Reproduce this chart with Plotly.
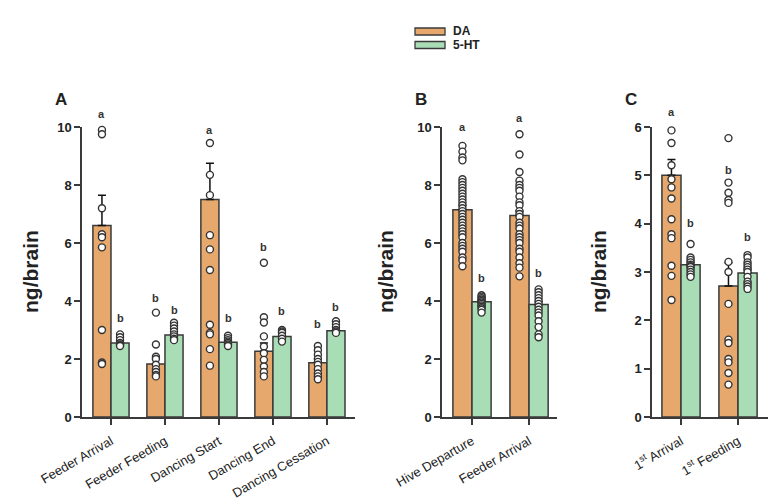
import plotly.graph_objects as go

# ---------------- data ----------------
cats_A = ["Feeder Arrival", "Feeder Feeding", "Dancing Start", "Dancing End", "Dancing Cessation"]
da_mean_A = [6.6, 1.83, 7.5, 2.27, 1.87]
da_err_A = [1.05, 0.17, 1.25, 0.28, 0.15]
ht_mean_A = [2.55, 2.83, 2.58, 2.78, 2.97]
ht_err_A = [0.06, 0.07, 0.05, 0.05, 0.06]
da_pts_A = [
    [9.9, 9.75, 7.2, 6.3, 6.2, 5.85, 3.0, 1.88, 1.83],
    [3.6, 2.5, 2.08, 2.0, 1.8, 1.65, 1.55, 1.45, 1.4],
    [9.45, 8.35, 7.65, 6.27, 5.78, 5.07, 3.18, 2.9, 2.85, 2.34, 1.77],
    [5.32, 3.44, 3.26, 2.78, 2.43, 2.2, 1.97, 1.74, 1.55, 1.4],
    [2.45, 2.3, 2.15, 2.0, 1.9, 1.8, 1.65, 1.5, 1.4, 1.3],
]
ht_pts_A = [
    [2.85, 2.75, 2.65, 2.55, 2.5, 2.48, 2.45],
    [3.25, 3.15, 3.05, 2.95, 2.85, 2.78, 2.7, 2.65],
    [2.8, 2.72, 2.65, 2.6, 2.55, 2.5, 2.45],
    [3.0, 2.95, 2.9, 2.8, 2.7, 2.6],
    [3.3, 3.2, 3.1, 3.0, 2.95, 2.9],
]
da_let_A = ["a", "b", "a", "b", "b"]
da_let_y_A = [10.45, 4.1, 9.9, 5.85, 3.2]
ht_let_A = ["b", "b", "b", "b", "b"]
ht_let_y_A = [3.4, 3.7, 3.4, 3.65, 3.8]

cats_B = ["Hive Departure", "Feeder Arrival"]
da_mean_B = [7.15, 6.95]
da_err_B = [0.15, 0.15]
ht_mean_B = [3.97, 3.88]
ht_err_B = [0.05, 0.1]
da_pts_B = [
    [9.35, 9.15, 8.95, 8.85, 8.2, 8.1, 8.0, 7.9, 7.8, 7.7, 7.6, 7.5, 7.4, 7.3, 7.2, 7.1,
     7.0, 6.9, 6.8, 6.7, 6.6, 6.5, 6.4, 6.3, 6.2, 6.0, 5.9, 5.8, 5.7, 5.5, 5.4, 5.2],
    [9.75, 9.05, 8.45, 8.15, 8.0, 7.9, 7.8, 7.6, 7.4, 7.3, 7.1, 7.0, 6.9, 6.7, 6.6, 6.5,
     6.3, 6.2, 6.1, 6.0, 5.8, 5.7, 5.5, 5.3, 5.15, 4.85],
]
ht_pts_B = [
    [4.2, 4.15, 4.1, 4.05, 4.0, 3.95, 3.9, 3.85, 3.8, 3.75, 3.7, 3.6],
    [4.4, 4.3, 4.2, 4.1, 4.0, 3.9, 3.8, 3.7, 3.6, 3.5, 3.3, 3.1, 2.85, 2.75],
]
da_let_B = ["a", "a"]
da_let_y_B = [10.0, 10.3]
ht_let_B = ["b", "b"]
ht_let_y_B = [4.78, 4.98]

cats_C = ["1<sup>st</sup> Arrival", "1<sup>st</sup> Feeding"]
da_mean_C = [5.0, 2.71]
da_err_C = [0.33, 0.48]
ht_mean_C = [3.15, 2.98]
ht_err_C = [0.05, 0.07]
da_pts_C = [
    [5.93, 5.67, 5.21, 4.92, 4.75, 4.52, 4.09, 3.78, 3.7, 3.13, 2.92, 2.42],
    [5.77, 4.85, 4.64, 4.49, 4.43, 3.21, 3.0, 2.34, 1.6, 1.53, 1.2, 1.13, 0.91, 0.67],
]
ht_pts_C = [
    [3.58, 3.3, 3.25, 3.2, 3.15, 3.12, 3.1, 3.05, 3.0, 2.95, 2.9],
    [3.35, 3.3, 3.2, 3.15, 3.1, 3.05, 3.0, 2.9, 2.8, 2.75, 2.7, 2.65],
]
da_let_C = ["a", "b"]
da_let_y_C = [6.31, 5.12]
ht_let_C = ["b", "b"]
ht_let_y_C = [4.02, 3.73]

series_names = ["DA", "5-HT"]
y_title = "ng/brain"
panel_letters = ["A", "B", "C"]

# ---------------- style ----------------
W, H = 779, 501
ORANGE = "#E6A86C"
GREEN = "#A9DDB6"
EDGE = "#3a3a3a"
INK = "#222222"
FONT = "Liberation Sans, Arial, sans-serif"
BARGAP = 0.33
OFF = (1 - BARGAP) / 4  # center offset of each bar in a 2-bar group

fig = go.Figure()

panels = [
    dict(cats=cats_A, dm=da_mean_A, de=da_err_A, hm=ht_mean_A, he=ht_err_A,
         dp=da_pts_A, hp=ht_pts_A, dl=da_let_A, dly=da_let_y_A, hl=ht_let_A, hly=ht_let_y_A,
         xd=(82, 355), xr=(-0.537, 4.52), yr=(0, 10), dt=2, ax="", ytx=30, plx=61),
    dict(cats=cats_B, dm=da_mean_B, de=da_err_B, hm=ht_mean_B, he=ht_err_B,
         dp=da_pts_B, hp=ht_pts_B, dl=da_let_B, dly=da_let_y_B, hl=ht_let_B, hly=ht_let_y_B,
         xd=(442, 557), xr=(-0.526, 1.49), yr=(0, 10), dt=2, ax="2", ytx=385, plx=421),
    dict(cats=cats_C, dm=da_mean_C, de=da_err_C, hm=ht_mean_C, he=ht_err_C,
         dp=da_pts_C, hp=ht_pts_C, dl=da_let_C, dly=da_let_y_C, hl=ht_let_C, hly=ht_let_y_C,
         xd=(652, 768), xr=(-0.509, 1.526), yr=(0, 6), dt=1, ax="3", ytx=598, plx=631),
]

y0_px, ytop_px = 417, 127
ydom = [1 - y0_px / H, 1 - ytop_px / H]

annotations = []
for p in panels:
    xa = "x" + p["ax"]
    ya = "y" + p["ax"]
    n = len(p["cats"])
    idx = list(range(n))
    for name, means, errs, color in [(series_names[0], p["dm"], p["de"], ORANGE),
                                     (series_names[1], p["hm"], p["he"], GREEN)]:
        fig.add_trace(go.Bar(
            x=idx, y=means, name=name, marker=dict(color=color, line=dict(color=EDGE, width=1.5)),
            error_y=dict(type="data", array=errs, arrayminus=[0] * n, symmetric=False,
                         color="#111111", thickness=1.5, width=4),
            xaxis=xa, yaxis=ya, showlegend=False))
    for sgn, pts in [(-1, p["dp"]), (1, p["hp"])]:
        xs, ys = [], []
        for i, vals in enumerate(pts):
            for v in vals:
                xs.append(i + sgn * OFF)
                ys.append(v)
        fig.add_trace(go.Scatter(
            x=xs, y=ys, mode="markers", cliponaxis=False, showlegend=False,
            marker=dict(symbol="circle", size=7, color="white", line=dict(color="#333333", width=1.4)),
            xaxis=xa, yaxis=ya, hoverinfo="skip"))
    # significance letters: placed in y-domain units so ones above the axis top still show
    ymin, ymax = p["yr"]
    for sgn, lets, lys in [(-1, p["dl"], p["dly"]), (1, p["hl"], p["hly"])]:
        for i, (t, yy) in enumerate(zip(lets, lys)):
            annotations.append(dict(x=i + sgn * OFF, xref=xa,
                                    y=(yy - ymin) / (ymax - ymin), yref=ya + " domain",
                                    text=t, showarrow=False, xanchor="center", yanchor="middle",
                                    font=dict(family=FONT, size=11, color="#333333", weight="bold")))
    axis_key = "xaxis" + p["ax"]
    yaxis_key = "yaxis" + p["ax"]
    fig.update_layout(**{
        axis_key: dict(domain=[p["xd"][0] / W, p["xd"][1] / W], range=list(p["xr"]),
                       anchor=ya, tickmode="array", tickvals=idx, ticktext=p["cats"],
                       tickangle=-30, ticks="outside", ticklen=6, tickwidth=1.5, tickcolor=EDGE,
                       ticklabelstandoff=4,
                       showline=True, linecolor=EDGE, linewidth=1.5, showgrid=False, zeroline=False,
                       automargin=False,
                       tickfont=dict(family=FONT, size=13, color=INK), fixedrange=True),
        yaxis_key: dict(domain=ydom, range=list(p["yr"]), anchor=xa, dtick=p["dt"],
                        ticks="outside", ticklen=6, tickwidth=1.5, tickcolor=EDGE,
                        showline=True, linecolor=EDGE, linewidth=1.5, showgrid=False, zeroline=False,
                        automargin=False,
                        tickfont=dict(family=FONT, size=13, color=INK, weight="bold"), fixedrange=True),
    })
    annotations.append(dict(x=p["ytx"] / W, y=1 - 272 / H, xref="paper", yref="paper", text=y_title,
                            textangle=-90, showarrow=False, xanchor="center", yanchor="middle",
                            font=dict(family=FONT, size=21, color=INK, weight="bold")))

for lbl, p in zip(panel_letters, panels):
    annotations.append(dict(x=p["plx"] / W, y=1 - 100 / H, xref="paper", yref="paper", text=lbl,
                            showarrow=False, xanchor="center", yanchor="middle",
                            font=dict(family=FONT, size=17, color=INK, weight="bold")))

# legend (drawn manually to mimic wide swatches)
shapes = []
for k, (nm, col) in enumerate([(series_names[0], ORANGE), (series_names[1], GREEN)]):
    ymid = 31.5 + 13.5 * k
    shapes.append(dict(type="rect", xref="paper", yref="paper",
                       x0=415 / W, x1=445 / W, y0=1 - (ymid + 3.5) / H, y1=1 - (ymid - 3.5) / H,
                       fillcolor=col, line=dict(color=EDGE, width=1.3)))
    annotations.append(dict(x=451 / W, y=1 - ymid / H, xref="paper", yref="paper", text=nm,
                            showarrow=False, xanchor="left", yanchor="middle",
                            font=dict(family=FONT, size=12, color=INK, weight="bold")))

fig.update_layout(
    template="none",
    width=W, height=H, margin=dict(l=0, r=0, t=0, b=0, pad=0),
    paper_bgcolor="white", plot_bgcolor="white",
    barmode="group", bargap=BARGAP, bargroupgap=0,
    annotations=annotations, shapes=shapes, showlegend=False,
    font=dict(family=FONT),
)

fig.write_html("out.html")
